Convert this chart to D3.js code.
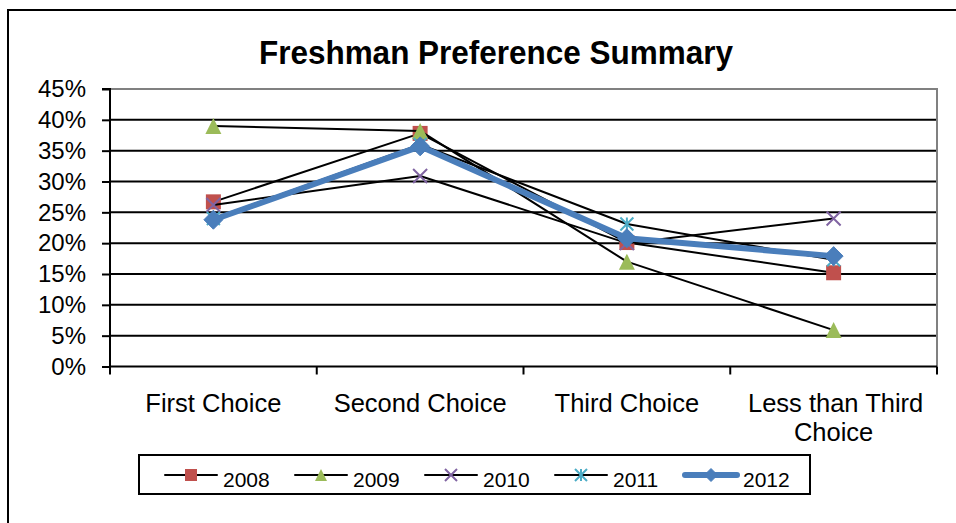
<!DOCTYPE html>
<html>
<head>
<meta charset="utf-8">
<script src="https://cdn.jsdelivr.net/npm/d3@7"></script>
<style>
  html, body { margin: 0; padding: 0; background: #fff; }
  svg { display: block; font-family: Arial, "Liberation Sans", sans-serif; }
</style>
</head>
<body>
<svg id="chart" width="956" height="523"></svg>
<script>
// ---- data ----
const categories = ["First Choice", "Second Choice", "Third Choice", "Less than Third Choice"];
const categoryLines = [["First Choice"], ["Second Choice"], ["Third Choice"], ["Less than Third", "Choice"]];
const seriesNames = ["2008", "2009", "2010", "2011", "2012"];
const values2008 = [26.7, 37.8, 20.1, 15.2];
const values2009 = [39.0, 38.2, 17.0, 5.9];
const values2010 = [26.2, 30.9, 20.0, 24.0];
const values2011 = [24.0, 36.0, 23.1, 17.3];
const values2012 = [23.8, 35.7, 20.8, 17.9];
const yTicks = [0, 5, 10, 15, 20, 25, 30, 35, 40, 45];
const title = "Freshman Preference Summary";

const seriesValues = [values2008, values2009, values2010, values2011, values2012];
const markerColors = ["#C0504D", "#9BBB59", "#8064A2", "#4BACC6", "#4A7EBB"];
const markerTypes = ["square", "triangle", "x", "star", "diamond"];

// ---- layout ----
const svg = d3.select("#chart");
const plot = { left: 110, right: 937, top: 89, bottom: 366.5 };

// outer frame
svg.append("rect").attr("x", 8).attr("y", 10).attr("width", 1000).attr("height", 600)
  .attr("fill", "none").attr("stroke", "#000").attr("stroke-width", 2);

const x = d3.scaleBand().domain(categories).range([plot.left, plot.right]).padding(0);
const y = d3.scaleLinear().domain([0, 45]).range([plot.bottom, plot.top]);
const cx = c => x(c) + x.bandwidth() / 2;

// title
svg.append("text").attr("transform", "translate(496,64) scale(1,1.08)").attr("text-anchor", "middle")
  .attr("font-size", 31.5).attr("font-weight", "bold").attr("fill", "#000").text(title);

// gridlines
svg.append("g").selectAll("line").data(yTicks.filter(t => t > 0 && t < 45)).join("line")
  .attr("x1", plot.left).attr("x2", plot.right)
  .attr("y1", d => y(d)).attr("y2", d => y(d))
  .attr("stroke", "#000").attr("stroke-width", 2);

// top and right plot border (gray)
svg.append("path")
  .attr("d", `M${plot.left},${y(45)}H${plot.right}V${plot.bottom}`)
  .attr("fill", "none").attr("stroke", "#808080").attr("stroke-width", 2);

// y axis
const yAxis = d3.axisLeft(y).tickValues(yTicks).tickSize(8).tickPadding(16).tickFormat(d => d + "%");
const gy = svg.append("g").attr("transform", `translate(${plot.left},0)`).call(yAxis);
gy.select(".domain").attr("stroke", "#000").attr("stroke-width", 2).attr("d", `M-8,${y(45)}H0V${plot.bottom}`);
gy.selectAll(".tick line").attr("stroke", "#000").attr("stroke-width", 2);
gy.selectAll(".tick text").attr("font-size", 24).attr("fill", "#000")
  .attr("font-family", "Arial, 'Liberation Sans', sans-serif");

// x axis line and boundary ticks
const xBounds = categories.map(c => x(c)).concat([x.range()[1]]);
svg.append("line").attr("x1", plot.left).attr("x2", plot.right)
  .attr("y1", plot.bottom).attr("y2", plot.bottom).attr("stroke", "#000").attr("stroke-width", 2);
svg.append("g").selectAll("line").data(xBounds).join("line")
  .attr("x1", d => d).attr("x2", d => d)
  .attr("y1", plot.bottom).attr("y2", plot.bottom + 8)
  .attr("stroke", "#000").attr("stroke-width", 2);

// x labels
const xl = svg.append("g").selectAll("text").data(categories).join("text")
  .attr("x", d => cx(d)).attr("y", 412).attr("text-anchor", "middle")
  .attr("font-size", 25.5).attr("fill", "#000");
xl.each(function(d, i) {
  const t = d3.select(this);
  categoryLines[i].forEach((ln, j) => {
    t.append("tspan").attr("x", cx(d) + (j === 0 && categoryLines[i].length > 1 ? 2 : 0))
      .attr("dy", j === 0 ? 0 : 29).text(ln);
  });
});

// marker path generator
function markerPath(type, s) {
  if (type === "square") return d3.symbol(d3.symbolSquare, s * s)();
  if (type === "triangle") return `M0,${-s/2}L${s/2},${s/2}L${-s/2},${s/2}Z`;
  if (type === "diamond") return `M0,${-s/2}L${s/2},0L0,${s/2}L${-s/2},0Z`;
  if (type === "x") return `M${-s/2},${-s/2}L${s/2},${s/2}M${-s/2},${s/2}L${s/2},${-s/2}`;
  if (type === "star") return `M${-s/2},${-s/2}L${s/2},${s/2}M${-s/2},${s/2}L${s/2},${-s/2}M0,${-s/2}L0,${s/2}`;
}
function drawMarker(g, type, color, s) {
  const stroke = (type === "x" || type === "star");
  g.append("path").attr("d", markerPath(type, s))
    .attr("fill", stroke ? "none" : color)
    .attr("stroke", stroke ? color : (type === "diamond" ? color : "none"))
    .attr("stroke-width", stroke ? 2 : 1);
}
const markerSizes = { square: 15, triangle: 16, x: 14, star: 13, diamond: 19 };

// series
const line = d3.line().x((d, i) => cx(categories[i])).y(d => y(d));
seriesValues.forEach((vals, si) => {
  const g = svg.append("g");
  const isLast = si === seriesValues.length - 1;
  g.append("path").datum(vals).attr("d", line)
    .attr("fill", "none")
    .attr("stroke", isLast ? markerColors[si] : "#000")
    .attr("stroke-width", isLast ? 6 : 2)
    .attr("stroke-linejoin", "round").attr("stroke-linecap", "round");
  vals.forEach((v, i) => {
    const mg = g.append("g").attr("transform", `translate(${cx(categories[i])},${y(v)})`);
    drawMarker(mg, markerTypes[si], markerColors[si], markerSizes[markerTypes[si]]);
  });
});

// legend
const legend = svg.append("g");
legend.append("rect").attr("x", 139).attr("y", 455).attr("width", 671).attr("height", 39)
  .attr("fill", "#fff").attr("stroke", "#000").attr("stroke-width", 2);
const legendX = d3.scalePoint().domain(seriesNames).range([165, 685]);
seriesNames.forEach((name, si) => {
  const lx = legendX(name);
  const isLast = si === seriesNames.length - 1;
  const item = legend.append("g").attr("transform", `translate(${lx},475)`);
  item.append("line").attr("x1", 0).attr("x2", 52).attr("y1", 0).attr("y2", 0)
    .attr("stroke", isLast ? markerColors[si] : "#000")
    .attr("stroke-width", isLast ? 6 : 2).attr("stroke-linecap", "round");
  const mg = item.append("g").attr("transform", "translate(26,0)");
  drawMarker(mg, markerTypes[si], markerColors[si], markerTypes[si] === "diamond" ? 13 : 12);
  item.append("text").attr("x", 58).attr("y", 12).attr("font-size", 21).attr("fill", "#000").text(name);
});
</script>
</body>
</html>
